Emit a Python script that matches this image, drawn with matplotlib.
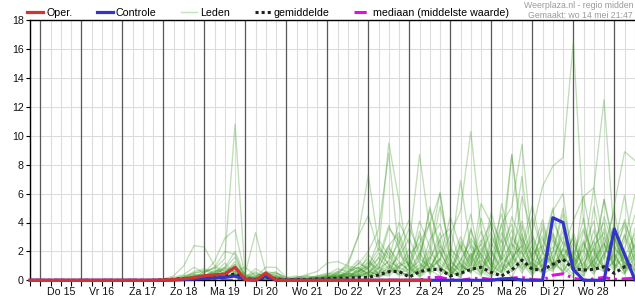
import numpy as np
import matplotlib
matplotlib.use("Agg")
import matplotlib.pyplot as plt
from matplotlib.lines import Line2D

plt.rcParams['font.family'] = ['Liberation Sans', 'DejaVu Sans']

# ---- data -------------------------------------------------------------
start_hour = -6          # Wo 14 18:00, relative to Do 15 00:00
step_hours = 6
n_steps = 60
day_labels = ['Do 15', 'Vr 16', 'Za 17', 'Zo 18', 'Ma 19', 'Di 20', 'Wo 21',
              'Do 22', 'Vr 23', 'Za 24', 'Zo 25', 'Ma 26', 'Di 27', 'Wo 28']
y_ticks = [0, 2, 4, 6, 8, 10, 12, 14, 16, 18]

nan = float('nan')
oper = ([0] * 13 +
        [0.02, 0.05, 0.1, 0.18, 0.32, 0.38, 0.43, 0.9, 0.05, 0.0, 0.5, 0.02] +
        [0] * 15 + [nan] * 20)
controle = ([0] * 13 +
            [0, 0.02, 0.05, 0.08, 0.12, 0.15, 0.2, 0.3, 0.05, 0, 0.3, 0] +
            [0] * 21 +
            [0.1, 0.12, 0.02, 0, 0, 4.33, 4.0, 0.75, 0, 0, 0, 3.55, 1.8, 0.05])
gemiddelde = ([0] * 13 +
              [0.03, 0.08, 0.12, 0.1, 0.15, 0.2, 0.25, 0.45, 0.1, 0.05, 0.2, 0.1,
               0.02, 0.05, 0.05, 0.08, 0.1, 0.15, 0.15, 0.2,
               0.2, 0.37, 0.6, 0.62, 0.22, 0.6, 0.73, 0.76,
               0.3, 0.48, 0.76, 0.9, 0.55, 0.3, 0.71, 1.4,
               0.76, 0.71, 1.1, 1.45, 0.8, 0.71, 0.76, 0.94,
               0.48, 0.94, 1.06])
mediaan = ([0] * 39 +
           [0.2, 0.2, 0.05, 0, 0.1, 0.15, 0.05, 0, 0.15, 0.2, 0.05, 0,
            0.35, 0.45, 0.15, 0, 0.1, 0.2, 0.05, 0.1, 0.15])

# ensemble members ("Leden"), values from Zo 18 00:00 onward (earlier = 0)
members_lead_zeros = 13
leden = [
    [0, 0.1, 0.3, 0.5, 0.6, 0.8, 1.5, 10.8, 0.2, 0.1, 0, 0,
     0, 0, 0.1, 0.2, 0.3, 0.5, 0.2, 0.8, 1.5, 0.4, 2.0, 0.6,
     1.2, 3.1, 0.5, 1.0, 0.2, 2.4, 0.8, 0.3, 1.9, 0.6, 2.2, 4.1,
     1.5, 0.9, 3.2, 1.1, 0.4, 2.6, 0.7, 1.8, 3.9, 0.5, 1.3],
    [0, 0.2, 0.4, 0.9, 0.5, 1.3, 2.9, 3.5, 0.3, 0.5, 0.2, 0.1,
     0, 0.1, 0, 0.1, 0.2, 0.4, 1.2, 3.0, 4.5, 2.0, 9.5, 5.5,
     0.8, 0.3, 1.5, 2.8, 0.6, 0.2, 3.5, 1.6, 0.4, 5.3, 2.5, 1.2,
     0.3, 2.0, 4.8, 6.0, 1.0, 0.6, 2.4, 3.3, 0.9, 2.2, 4.5],
    [0.1, 0.3, 1.0, 2.4, 2.3, 1.0, 0.6, 0.2, 0, 0, 0.1, 0,
     0, 0.2, 0.4, 0.6, 1.2, 1.3, 1.0, 3.0, 7.3, 2.5, 1.0, 0.3,
     0.5, 1.8, 4.0, 0.7, 0.3, 1.2, 0.5, 2.6, 4.0, 1.0, 0.2, 1.6,
     2.8, 0.5, 1.2, 3.4, 0.8, 5.8, 2.1, 0.6, 1.4, 3.1, 0.7],
    [0, 0, 0.2, 0.6, 0.8, 0.5, 1.2, 0.4, 0.5, 3.3, 0.6, 0.3,
     0.1, 0, 0, 0.1, 0.1, 0.3, 0.5, 0.4, 0.9, 1.5, 3.8, 2.2,
     0.2, 0.9, 2.2, 6.1, 1.5, 0.5, 1.8, 0.4, 2.6, 1.4, 8.7, 3.0,
     0.6, 1.5, 2.3, 0.9, 0.2, 1.8, 6.4, 2.5, 1.0, 0.4, 2.9],
    [0, 0.1, 0.2, 0.3, 0.5, 0.9, 2.0, 1.8, 0.1, 0.2, 0.9, 0.9,
     0.2, 0.1, 0.1, 0.2, 0.4, 0.8, 0.6, 1.1, 2.0, 3.5, 8.8, 1.8,
     1.0, 2.5, 0.8, 1.4, 3.2, 4.8, 10.3, 3.6, 1.1, 0.5, 1.6, 2.4,
     5.2, 2.0, 0.8, 1.5, 3.0, 0.6, 1.1, 4.4, 2.2, 1.5, 0.8],
    [0, 0, 0.1, 0.2, 0.3, 0.6, 0.8, 1.6, 0.2, 0.8, 0.4, 0.6,
     0, 0.1, 0.2, 0.1, 0.2, 0.5, 0.9, 0.6, 1.0, 2.2, 1.5, 4.0,
     2.5, 8.7, 3.5, 1.2, 0.6, 2.0, 4.6, 1.0, 0.3, 1.8, 3.5, 0.9,
     1.2, 3.6, 0.8, 2.7, 1.6, 0.3, 1.5, 5.6, 1.9, 0.5, 1.7],
    [0, 0, 0, 0.1, 0.2, 0.3, 0.5, 0.8, 0.1, 0.2, 0, 0.1,
     0.1, 0, 0.1, 0.3, 0.5, 0.3, 0.2, 0.6, 1.3, 0.8, 2.4, 3.3,
     1.4, 0.6, 2.8, 3.9, 1.5, 6.9, 2.2, 1.0, 4.1, 2.6, 8.7, 2.0,
     0.4, 1.1, 3.3, 1.6, 0.9, 2.1, 0.6, 3.0, 1.2, 4.2, 2.0],
    [0, 0.1, 0.1, 0.2, 0.4, 0.2, 0.6, 1.1, 0.3, 0.2, 0.3, 0.5,
     0.2, 0.3, 0.1, 0, 0.1, 0.2, 0.4, 1.2, 0.8, 0.5, 1.4, 2.6,
     4.2, 1.5, 0.9, 2.1, 0.5, 1.3, 2.9, 1.8, 0.7, 3.9, 5.1, 9.4,
     2.3, 0.8, 1.9, 4.6, 1.1, 2.8, 0.5, 1.6, 3.3, 0.9, 2.4],
    [0, 0, 0.1, 0.3, 0.4, 0.3, 0.2, 0.5, 0, 0.1, 0.2, 0.1,
     0, 0.1, 0.3, 0.2, 0.1, 0.6, 0.4, 0.3, 0.8, 1.9, 1.1, 0.6,
     0.3, 1.6, 4.9, 2.4, 0.9, 0.4, 1.5, 2.8, 1.3, 0.6, 2.5, 1.8,
     3.4, 6.5, 7.9, 8.5, 16.5, 4.0, 1.3, 0.7, 2.0, 3.8, 1.2],
    [0, 0, 0.1, 0.1, 0.2, 0.4, 0.9, 0.6, 0.1, 0.3, 0.2, 0.3,
     0, 0.2, 0.2, 0.1, 0.3, 0.2, 0.5, 0.9, 0.4, 1.6, 0.8, 3.1,
     0.9, 0.4, 1.7, 5.1, 2.3, 1.1, 0.5, 2.0, 3.3, 1.2, 0.6, 2.9,
     1.6, 3.1, 0.9, 2.2, 4.1, 5.8, 6.4, 12.5, 3.0, 1.1, 2.5],
    [0, 0.1, 0.3, 0.2, 0.1, 0.5, 0.4, 0.3, 0, 0.1, 0.2, 0.1,
     0.1, 0.1, 0, 0.2, 0.2, 0.4, 0.3, 0.5, 1.8, 0.9, 2.2, 1.3,
     0.6, 3.4, 1.1, 0.7, 2.1, 1.5, 0.8, 4.3, 2.0, 0.9, 1.3, 3.2,
     0.8, 2.4, 5.0, 1.3, 2.6, 0.8, 3.5, 1.4, 5.2, 8.9, 8.3],
    [0, 0, 0, 0.1, 0.3, 0.4, 0.3, 0.9, 0.2, 0, 0.4, 0.2,
     0, 0, 0.1, 0.1, 0.2, 0.1, 0.3, 0.2, 0.6, 0.4, 0.9, 1.6,
     2.9, 1.2, 0.6, 1.5, 4.4, 2.2, 1.0, 5.3, 3.9, 1.4, 2.6, 7.2,
     1.1, 0.5, 2.8, 1.7, 0.6, 3.4, 1.9, 0.8, 2.3, 5.9, 1.6],
    [0, 0, 0.1, 0.4, 0.3, 0.7, 0.5, 1.3, 0.4, 0.2, 0.1, 0.2,
     0, 0, 0.1, 0.3, 0.4, 0.6, 1.0, 0.8, 0.5, 1.2, 2.4, 0.8,
     1.8, 2.6, 3.9, 6.0, 1.3, 0.7, 1.9, 0.8, 1.6, 3.9, 1.0, 2.1,
     4.4, 1.9, 1.2, 3.8, 0.6, 1.5, 2.7, 0.9, 1.8, 0.5, 3.6],
    [0, 0, 0, 0.1, 0.1, 0.2, 0.3, 0.4, 0, 0.1, 0.1, 0,
     0, 0, 0, 0.1, 0.1, 0.3, 0.2, 0.4, 0.3, 0.6, 1.0, 0.5,
     0.4, 0.8, 1.6, 0.9, 0.3, 1.4, 2.7, 0.6, 0.2, 1.1, 2.0, 0.7,
     1.3, 0.4, 0.9, 2.1, 1.2, 0.5, 1.4, 2.6, 0.7, 1.9, 0.6],
    [0, 0, 0.2, 0.5, 0.7, 0.4, 0.8, 0.6, 0.1, 0.4, 0.3, 0.2,
     0.1, 0, 0.1, 0.2, 0.1, 0.2, 0.6, 1.4, 0.7, 0.3, 0.6, 1.9,
     3.6, 2.0, 0.7, 0.3, 1.2, 3.0, 1.4, 0.5, 2.2, 4.6, 1.7, 0.8,
     2.0, 4.2, 1.5, 0.6, 1.8, 3.6, 0.9, 2.3, 4.8, 1.0, 0.4],
    [0, 0, 0.1, 0.1, 0.2, 0.1, 0.4, 0.3, 0.1, 0, 0.1, 0.1,
     0, 0, 0, 0, 0.1, 0.2, 0.1, 0.3, 0.5, 0.2, 0.7, 0.4,
     1.1, 0.3, 0.9, 2.0, 0.6, 0.2, 1.3, 3.4, 0.8, 0.3, 1.5, 2.4,
     0.7, 1.8, 3.0, 0.4, 1.1, 2.2, 4.1, 0.6, 1.3, 2.7, 5.9],
    [0, 0.1, 0.1, 0.3, 0.2, 0.5, 0.7, 0.4, 0.2, 0.1, 0, 0.1,
     0.1, 0.1, 0, 0.1, 0.3, 0.2, 0.8, 0.5, 1.2, 0.7, 0.4, 2.1,
     1.0, 4.1, 2.3, 0.8, 0.5, 2.5, 1.2, 0.4, 3.0, 1.6, 0.9, 3.8,
     1.2, 0.6, 4.1, 2.5, 0.9, 0.3, 5.1, 1.8, 0.6, 3.2, 1.4],
    [0, 0, 0, 0.2, 0.3, 0.2, 0.1, 0.6, 0.9, 0.3, 0.5, 0.2,
     0, 0.1, 0.1, 0.2, 0.1, 0.4, 0.2, 0.7, 0.3, 0.9, 0.5, 1.2,
     0.7, 1.9, 0.4, 2.9, 3.6, 1.0, 0.6, 1.9, 0.5, 2.3, 3.9, 1.3,
     0.5, 2.9, 1.1, 0.7, 3.3, 1.2, 0.4, 1.9, 3.0, 0.8, 2.0],
    [0, 0, 0.1, 0.2, 0.6, 0.9, 0.4, 0.2, 0, 0.2, 0.6, 0.5,
     0.2, 0, 0, 0.1, 0.2, 0.1, 0.3, 0.4, 0.9, 2.8, 1.7, 0.6,
     0.3, 0.6, 1.2, 0.5, 1.9, 0.8, 2.4, 1.5, 4.7, 2.0, 0.8, 1.4,
     3.1, 1.0, 0.6, 2.2, 1.5, 4.3, 0.8, 3.6, 1.5, 0.9, 1.8],
    [0, 0, 0.1, 0.2, 0.1, 0.3, 0.5, 1.1, 0.2, 0.1, 0.3, 0.4,
     0.1, 0.2, 0.3, 0.2, 0.1, 0.1, 0.2, 0.3, 0.6, 0.4, 0.3, 0.9,
     2.2, 0.5, 1.4, 3.3, 1.0, 0.4, 1.1, 2.2, 1.0, 0.5, 3.0, 1.9,
     0.6, 1.4, 2.0, 5.0, 1.7, 0.6, 1.3, 2.5, 0.9, 1.6, 3.2],
    [0, 0, 0, 0.1, 0.2, 0.3, 0.2, 0.5, 0.1, 0.1, 0.2, 0.1,
     0, 0, 0.1, 0.1, 0.2, 0.3, 0.4, 0.2, 0.5, 1.1, 3.6, 2.7,
     0.9, 0.2, 0.8, 1.5, 0.6, 2.7, 1.6, 0.7, 0.4, 1.5, 4.4, 2.6,
     0.9, 3.9, 1.4, 0.5, 2.0, 1.0, 2.8, 4.0, 1.1, 0.7, 1.5],
    [0, 0, 0.1, 0.1, 0.3, 0.2, 0.4, 0.7, 0.1, 0.2, 0.1, 0.3,
     0.1, 0, 0, 0.1, 0.1, 0.2, 0.5, 0.3, 0.2, 0.8, 1.3, 0.9,
     0.5, 1.1, 0.6, 2.4, 1.3, 0.6, 3.6, 0.9, 2.1, 0.7, 1.2, 5.8,
     3.2, 1.3, 0.7, 1.6, 2.9, 0.7, 1.7, 5.6, 2.4, 1.2, 0.7],
    [0, 0, 0.1, 0.3, 0.2, 0.4, 0.3, 0.2, 0.1, 0.6, 0.2, 0.1,
     0, 0.1, 0, 0.2, 0.3, 0.2, 0.6, 0.9, 0.4, 0.2, 0.5, 1.0,
     1.3, 0.5, 2.0, 0.9, 0.4, 1.0, 0.6, 1.4, 0.7, 2.8, 0.6, 1.1,
     2.4, 0.9, 1.6, 3.0, 0.5, 1.2, 2.2, 0.8, 3.5, 1.3, 0.5],
    [0, 0, 0.2, 0.4, 0.3, 0.6, 0.9, 2.0, 0.3, 0.1, 0.3, 0.2,
     0, 0, 0.1, 0.1, 0.3, 0.2, 0.4, 0.6, 1.0, 0.5, 0.8, 0.4,
     0.8, 1.3, 5.1, 1.9, 0.7, 0.3, 1.7, 2.5, 0.9, 3.3, 1.7, 0.5,
     1.8, 2.4, 0.9, 1.8, 0.7, 2.6, 1.0, 0.6, 2.7, 4.0, 2.2],
]

# ---- styles -----------------------------------------------------------
c_oper = '#d03535'
c_ctrl = '#3434c8'
c_leden = '#3c9a22'
c_mean = '#222222'
c_med = '#e010e0'
grid_c = '#dcdcdc'
day_c = '#5a5a5a'
fs = 7.7

hours = start_hour + step_hours * np.arange(n_steps)
x_min, x_max = hours[0], hours[-1]

fig = plt.figure(figsize=(6.35, 3.0), dpi=100)
ax = fig.add_axes([30 / 635, 19.7 / 300, 604.8 / 635, 260.1 / 300])

# members
for m in leden:
    vals = np.r_[np.zeros(members_lead_zeros), np.array(m, dtype=float)]
    ax.plot(hours, vals, color=c_leden, alpha=0.32, lw=0.95, zorder=2)

ax.plot(hours, mediaan, color=c_med, lw=2.2, ls=(0, (4, 1.5, 0.8, 1.5)),
        zorder=3, solid_capstyle='butt')
ax.plot(hours, gemiddelde, color=c_mean, lw=2.2, ls=(0, (1, 1)), zorder=4)
ax.plot(hours, controle, color=c_ctrl, lw=2.3, zorder=5, clip_on=False)
ax.plot(hours, oper, color=c_oper, lw=2.3, zorder=6, clip_on=False)

# axes
ax.set_xlim(x_min, x_max)
ax.set_ylim(y_ticks[0], y_ticks[-1])
ax.set_yticks(y_ticks)
ax.set_yticklabels([str(v) for v in y_ticks])

day_starts = np.arange(0, x_max + 1, 24)
noon = 12 + 24 * np.arange(len(day_labels))
six_hour = np.arange(x_min, x_max + 1, 6)

ax.set_xticks(noon)
ax.set_xticklabels(day_labels)
ax.set_xticks(six_hour, minor=True)
ax.xaxis.remove_overlapping_locs = False
ax.tick_params(axis='x', which='major', length=0, pad=5, labelsize=fs,
               colors='#111111')
ax.tick_params(axis='x', which='minor', length=4, width=0.8, color='black',
               direction='out')
ax.tick_params(axis='y', which='major', length=3, width=0.8, pad=1.5,
               labelsize=fs, colors='#111111')
ax.tick_params(axis='y', color='black')

for h in six_hour:
    ax.axvline(h, color=grid_c, lw=0.8, zorder=0)
for v in y_ticks:
    ax.axhline(v, color=grid_c, lw=0.8, zorder=0)
for d in day_starts:
    ax.axvline(d, color=day_c, lw=0.9, zorder=1)

for s in ['left', 'bottom', 'top']:
    ax.spines[s].set_color('black')
    ax.spines[s].set_linewidth(1.0)
ax.spines['right'].set_visible(False)

# legend
handles = [
    Line2D([], [], color=c_oper, lw=2.3),
    Line2D([], [], color=c_ctrl, lw=2.3),
    Line2D([], [], color=c_leden, alpha=0.3, lw=1.0),
    Line2D([], [], color=c_mean, lw=2.2, ls=(0, (1, 1))),
    Line2D([], [], color=c_med, lw=2.2, ls=(0, (4, 1.5, 0.8, 1.5))),
]
labels = ['Oper.', 'Controle', 'Leden', 'gemiddelde',
          'mediaan (middelste waarde)']
fig.legend(handles, labels, loc='center left', ncol=5, frameon=False,
           bbox_to_anchor=(27 / 635, 1 - 13 / 300), borderpad=0,
           borderaxespad=0, handlelength=1.5, handletextpad=0.28,
           columnspacing=2.3, fontsize=fs)

fig.text(633 / 635, 1 - 5 / 300, 'Weerplaza.nl - regio midden',
         ha='right', va='center', fontsize=6.3, color='#9a9a9a')
fig.text(633 / 635, 1 - 15 / 300, 'Gemaakt: wo 14 mei 21:47',
         ha='right', va='center', fontsize=6.3, color='#9a9a9a')

fig.savefig('out.png', dpi=100)
